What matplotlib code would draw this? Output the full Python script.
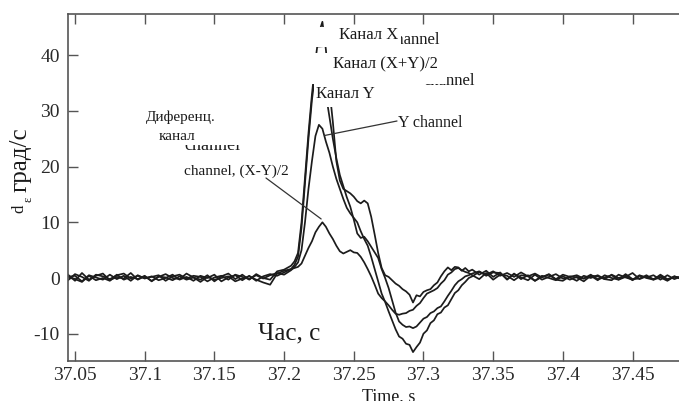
import numpy as np
import matplotlib
matplotlib.use("Agg")
import matplotlib.pyplot as plt
from matplotlib.patches import Rectangle

plt.rcParams['font.family'] = ['Liberation Serif', 'DejaVu Serif']
plt.rcParams['axes.unicode_minus'] = False

# ---- sampling grid (s) ----
t_base1 = np.round(37.045 + 0.005 * np.arange(33), 4)
t_event = np.round(37.2075 + 0.0025 * np.arange(51), 4)
t_base3 = np.round(37.335 + 0.005 * np.arange(31), 4)

# ---- X channel (Канал X) ----
x_base1 = [0.6, -0.5, 0.9, -0.3, 0.4, 0.8, -0.4, 0.2, -0.1, 0.9, -0.3, 0.3, -0.5, 0.2, 0.7, 0.0, -0.2,
           0.8, 0.1, -0.3, 0.5, -0.6, 0.3, 0.8, -0.2, 0.6, -0.3, 0.7, 0.0, -0.3, 1.2, 1.5, 2.2]
x_event = [3.0, 4.5, 10, 18, 26, 33, 39, 44, 46, 41, 34, 28, 21, 17.5, 16.0, 15.6, 15.2, 14.6, 13.8,
           13.4, 13.9, 13.4, 11.0, 7.8, 4.5, 1.8, 0.5, 0.2, -0.4, -1.0, -1.4, -2.0, -2.4, -3.0, -4.4,
           -3.1, -3.3, -2.5, -2.2, -2.0, -1.3, -0.8, 0.3, 1.2, 1.9, 1.4, 2.0, 1.9, 1.3, 1.8, 1.2]
x_base3 = [1.5, 0.6, 1.3, 0.2, 1.0, -0.3, 0.8, -0.2, 0.5, -0.5, 0.4, 0.0, -0.4, 0.3, -0.3, 0.2, -0.1,
           0.6, -0.2, 0.1, 0.5, -0.3, 0.2, 0.9, -0.2, 0.3, -0.2, 0.4, -0.4, 0.3, -0.1]

# ---- (X+Y)/2 channel ----
s_base1 = [0.2, 0.4, -0.6, 0.5, 0.1, -0.3, 0.6, -0.2, 0.4, -0.5, 0.5, -0.1, 0.3, -0.4, 0.0, 0.6, -0.3,
           0.2, -0.5, 0.4, 0.0, 0.6, -0.6, 0.1, 0.5, -0.4, 0.4, -0.5, 0.3, 0.7, 0.4, 1.0, 1.6]
s_event = [2.4, 3.8, 9, 17, 25, 32, 37, 39, 37, 33, 29, 25, 21.5, 18.5, 16.5, 14.5, 12.8, 10.5, 8.0,
           7.2, 7.4, 6.6, 5.6, 4.6, 3.6, 1.6, 0.0, -1.8, -4.0, -6.2, -7.8, -8.4, -8.8, -8.7, -9.0,
           -8.7, -8.0, -7.3, -7.0, -6.3, -6.0, -5.4, -5.1, -4.2, -3.2, -2.3, -1.3, -0.6, -0.2, 0.3, 0.5]
s_base3 = [0.8, 1.2, 0.4, 1.0, 0.9, -0.2, 0.7, 0.1, -0.4, 0.6, -0.3, 0.2, 0.7, -0.1, 0.1, -0.5, 0.4,
           0.0, 0.5, -0.2, -0.4, 0.6, 0.1, -0.3, 0.5, 0.0, -0.3, 0.6, -0.2, 0.2, 0.1]

# ---- Y channel (Канал Y) ----
y_base1 = [-0.4, 0.7, 0.2, -0.5, 0.6, 0.3, -0.2, 0.5, 0.8, -0.1, 0.4, 0.0, 0.2, 0.5, -0.5, 0.3, 0.6,
           -0.1, 0.4, 0.2, -0.6, 0.1, 0.4, -0.3, 0.6, 0.2, -0.2, 0.5, -0.1, 0.5, 0.9, 0.6, 1.4]
y_event = [2.0, 2.8, 5, 10, 16, 21, 25.5, 27.5, 26.8, 24.5, 22.5, 20.0, 17.8, 16.0, 14.2, 12.6, 11.6,
           10.8, 10.0, 8.4, 7.0, 5.8, 3.8, 1.6, -0.6, -2.8, -4.3, -6.0, -7.6, -9.2, -10.5, -10.9, -11.8,
           -12.0, -13.3, -12.4, -11.6, -10.0, -9.4, -8.1, -7.6, -6.5, -6.2, -5.3, -4.9, -3.8, -2.7,
           -2.2, -1.3, -0.7, 0.0]
y_base3 = [0.3, 1.1, 0.6, 1.2, 0.4, 0.9, 0.2, 1.0, 0.3, 0.8, 0.1, 0.7, -0.2, 0.6, 0.2, 0.5, -0.1, 0.4,
           0.3, -0.2, 0.6, 0.0, 0.4, -0.4, 0.4, 0.1, 0.5, -0.3, 0.5, -0.2, 0.3]

# ---- differential channel (X-Y)/2 ----
d_base1 = [0.3, -0.2, -0.7, 0.4, -0.4, 0.0, -0.5, 0.6, -0.3, 0.2, -0.2, 0.4, -0.6, 0.3, 0.1, -0.4, 0.3,
           -0.3, 0.1, -0.7, 0.2, -0.3, 0.0, 0.3, -0.6, -0.1, 0.3, -0.3, -0.8, -1.2, 0.8, 1.3, 1.6]
d_event = [1.8, 2.0, 2.6, 4.0, 5.4, 6.6, 8.2, 9.2, 10.0, 9.2, 8.0, 7.0, 5.8, 4.8, 4.4, 4.7, 5.0, 4.6,
           4.5, 3.8, 2.8, 1.6, 0.3, -1.2, -2.8, -3.6, -4.2, -4.9, -5.7, -6.4, -6.6, -6.4, -6.3, -5.9,
           -5.7, -5.0, -4.5, -3.6, -2.8, -2.5, -2.2, -1.8, -1.0, -0.4, 0.6, 1.0, 1.6, 1.8, 1.4, 1.1, 0.9]
d_base3 = [0.5, -0.2, 0.9, -0.3, 0.6, 0.4, -0.4, 0.5, 0.3, -0.5, 0.2, 0.6, -0.3, -0.5, 0.3, 0.1, -0.6,
           0.4, -0.4, 0.5, 0.0, -0.3, 0.7, -0.2, -0.1, 0.5, -0.3, 0.1, -0.5, 0.3, -0.2]

xticks = [37.05, 37.1, 37.15, 37.2, 37.25, 37.3, 37.35, 37.4, 37.45]
xtick_labels = ['37.05', '37.1', '37.15', '37.2', '37.25', '37.3', '37.35', '37.4', '37.45']
yticks = [-10, 0, 10, 20, 30, 40]
ytick_labels = ['-10', '0', '10', '20', '30', '40']

t = np.concatenate([t_base1, t_event, t_base3])
series = [
    x_base1 + x_event + x_base3,
    s_base1 + s_event + s_base3,
    y_base1 + y_event + y_base3,
    d_base1 + d_event + d_base3,
]

W, H = 679, 401
fig = plt.figure(figsize=(W / 100, H / 100), dpi=100)


def fx(px):
    return px / W


def fy(py):
    return 1 - py / H


ax = fig.add_axes([fx(68), fy(361), (683 - 68) / W, (361 - 14) / H])
for v in series:
    ax.plot(t, v, color='#1c1c1c', lw=1.25)

ax.set_xlim(37.04498, 37.4862)
ax.set_ylim(-14.9, 47.4)
ax.set_xticks(xticks)
ax.set_xticklabels(xtick_labels)
ax.set_yticks(yticks)
ax.set_yticklabels(ytick_labels)
ax.tick_params(direction='in', length=7, width=1.0, color='#555555', top=True, right=False,
               labelsize=14, labelcolor='#2a2a2a')
ax.tick_params(axis='x', pad=4)
ax.tick_params(axis='y', pad=6)
for sp in ['left', 'bottom', 'top']:
    ax.spines[sp].set_color('#555555')
    ax.spines[sp].set_linewidth(1.2)
ax.spines['right'].set_visible(False)

tc = '#1a1a1a'

# leader lines
ax.annotate('', xy=(37.2293, 25.6), xycoords='data', xytext=(fx(397), fy(121)),
            textcoords='figure fraction',
            arrowprops=dict(arrowstyle='-', color='#333333', lw=0.9, shrinkA=0, shrinkB=0))
ax.annotate('', xy=(37.2266, 10.6), xycoords='data', xytext=(fx(266), fy(178)),
            textcoords='figure fraction',
            arrowprops=dict(arrowstyle='-', color='#333333', lw=0.9, shrinkA=0, shrinkB=0))
ax.annotate('', xy=(37.2245, 41.5), xycoords='data', xytext=(fx(372), fy(42)),
            textcoords='figure fraction',
            arrowprops=dict(arrowstyle='-', color='#333333', lw=0.9, shrinkA=0, shrinkB=0))

# English labels, partly covered by the Ukrainian ones
fig.text(fx(440), fy(40), 'channel', ha='right', va='center', fontsize=12, color=tc, zorder=4)
fig.text(fx(475), fy(81), 'channel', ha='right', va='center', fontsize=12, color=tc, zorder=4)
fig.text(fx(212), fy(145), 'channel', ha='center', va='center', fontsize=13, color=tc, zorder=4)


def white_box(x0, y0, x1, y1):
    fig.add_artist(Rectangle((fx(x0), fy(y1)), (x1 - x0) / W, (y1 - y0) / H,
                             transform=fig.transFigure, facecolor='white',
                             edgecolor='none', zorder=5))


white_box(313, 27, 401, 47)
white_box(305, 53, 447, 84)
white_box(314, 84, 374, 107)
white_box(140, 102, 250, 145)

# Ukrainian labels
fig.text(fx(339), fy(35), 'Канал X', ha='left', va='center', fontsize=12, color=tc, zorder=6)
fig.text(fx(333), fy(64), 'Канал (X+Y)/2', ha='left', va='center', fontsize=12, color=tc, zorder=6)
fig.text(fx(316), fy(94), 'Канал Y', ha='left', va='center', fontsize=12, color=tc, zorder=6)
fig.text(fx(181), fy(117), 'Диференц.', ha='center', va='center', fontsize=11, color=tc, zorder=6)
fig.text(fx(177), fy(136), 'канал', ha='center', va='center', fontsize=11, color=tc, zorder=6)

fig.text(fx(398), fy(123), 'Y channel', ha='left', va='center', fontsize=11.5, color=tc, zorder=6)
fig.text(fx(184), fy(171), 'channel, (X-Y)/2', ha='left', va='center', fontsize=11, color=tc, zorder=6)

fig.text(fx(258), fy(333), 'Час, с', ha='left', va='center', fontsize=18, color=tc, zorder=6)
fig.text(fx(362), fy(388), 'Time, s', ha='left', va='top', fontsize=13, color=tc, zorder=6)

# y label
fig.text(fx(21), fy(160), 'град/с', ha='center', va='center', rotation=90, fontsize=18,
         color=tc, zorder=6)
fig.text(fx(19), fy(209), 'd', ha='center', va='center', rotation=90, fontsize=12, color=tc, zorder=6)
fig.text(fx(29), fy(199), 'ε', ha='center', va='center', rotation=90, fontsize=9, color=tc, zorder=6)

fig.savefig('out.png', dpi=100)
